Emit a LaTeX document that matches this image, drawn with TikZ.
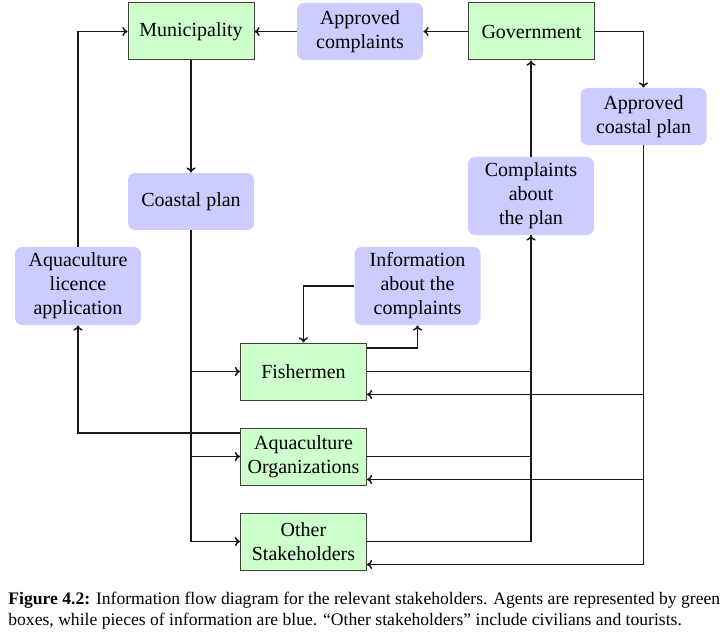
\documentclass[tikz,border=0pt]{standalone}
\usepackage{fontspec}
\setmainfont{Liberation Serif}
\usetikzlibrary{calc,arrows.meta}
\begin{document}
\begin{tikzpicture}[x=0.5pt,y=-0.5pt,
  agent/.style={draw=black!75, line width=0.5pt, fill=green!20, minimum width=63pt, minimum height=28.5pt, align=center, inner sep=2pt, font=\fontsize{10}{12}\selectfont},
  info/.style={fill=blue!20, rounded corners=3.5pt, minimum width=63pt, minimum height=28.5pt, align=center, inner sep=2pt, font=\fontsize{10}{12}\selectfont},
  tall/.style={minimum height=39pt},
  flow/.style={line width=0.75pt, black!90},
  >={To[length=2.6pt,width=4.6pt]}]
\useasboundingbox (0,0) rectangle (726,636);
% nodes
\node[agent] (mun) at (191,31.5) {Municipality};
\node[info] (appc) at (360,31.5) {Approved\\complaints};
\node[agent] (gov) at (531.5,31.5) {Government};
\node[info] (acp) at (643.5,116.5) {Approved\\coastal plan};
\node[info] (cp) at (191,201.5) {Coastal plan};
\node[info,tall] (cap) at (531,196) {Complaints\\about\\the plan};
\node[info,tall] (alic) at (78,286) {Aquaculture\\licence\\application};
\node[info,tall] (inf) at (417.5,286) {Information\\about the\\complaints};
\node[agent] (fish) at (303.5,371.5) {Fishermen};
\node[agent] (ao) at (303.5,456.5) {Aquaculture\\Organizations};
\node[agent] (os) at (303.5,541.5) {Other\\Stakeholders};
% helper coordinates on box sides
\coordinate (fishin) at ([yshift=-11.5pt]fish.east);
\coordinate (aoin) at ([yshift=-11.5pt]ao.east);
\coordinate (osin) at ([yshift=-11.5pt]os.east);
\coordinate (fishup) at ([yshift=11.75pt]fish.east);
\coordinate (aoup) at ([yshift=11.75pt]ao.west);
% connectors
\draw[flow,->] (gov) -- (appc);
\draw[flow,->] (appc) -- (mun);
\draw[flow,->] (gov.east) -| (acp.north);
\draw[flow,->] (mun) -- (cp);
\draw[flow,->] (alic.north) |- (mun.west);
\draw[flow,->] (cap.north) -- (cap.north |- gov.south);
% coastal plan distribution
\draw[flow,->] (cp.south) |- (os.west);
\draw[flow,->] (cp.south |- fish.west) -- (fish.west);
\draw[flow,->] (cp.south |- ao.west) -- (ao.west);
% information about complaints
\draw[flow,->] (fishup) -| (inf.south);
\draw[flow,->] (inf.west) -| (fish.north);
% complaints about the plan
\draw[flow] (os.east) -| (cap.south);
\draw[flow] (ao.east) -- (ao.east -| cap.south);
\draw[flow,->] (fish.east) -| (cap.south);
% approved coastal plan
\draw[flow,->] (acp.south) |- (osin);
\draw[flow,->] (acp.south |- fishin) -- (fishin);
\draw[flow,->] (acp.south |- aoin) -- (aoin);
% licence application
\draw[flow,->] (aoup) -| (alic.south);
% caption
\node[anchor=north west, align=left, inner sep=0pt, font=\fontsize{8.8}{10.5}\selectfont] (cap0) at (8,592)
  {\textbf{Figure 4.2:} Information flow diagram for the relevant stakeholders. Agents are represented by green\\
   boxes, while pieces of information are blue. ``Other stakeholders'' include civilians and tourists.};
\end{tikzpicture}
\end{document}
